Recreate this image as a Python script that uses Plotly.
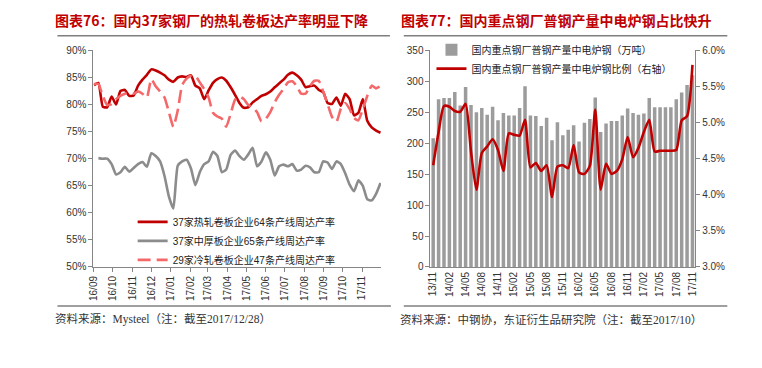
import plotly.graph_objects as go
import pandas as pd

# ---------------- Left chart data (weekly) ----------------
week_dates = pd.date_range("2016-09-01", periods=66, freq="7D")

hot_rolled = [83.6, 84.0, 79.6, 79.5, 81.5, 80.0, 82.5, 82.7, 81.6, 81.7,
              83.5, 84.6, 85.5, 86.5, 86.3, 85.9, 85.4, 84.6, 84.2, 85.0,
              85.2, 85.1, 85.4, 83.5, 83.0, 81.0, 82.6, 84.0, 84.7, 85.0,
              84.4, 83.2, 81.8, 80.3, 79.4, 79.5, 80.4, 81.0, 81.6, 81.9,
              82.4, 83.2, 83.9, 84.6, 85.5, 85.9, 85.4, 84.6, 83.2, 83.4,
              83.5, 82.7, 82.3, 80.3, 80.1, 81.3, 79.8, 82.0, 81.0, 78.0,
              78.5, 81.0, 77.0, 75.8, 75.2, 74.8]

medium_plate = [None, 70.1, 70.0, 70.0, 69.0, 67.1, 67.5, 68.5, 67.6, 68.3,
                69.0, 69.4, 68.5, 71.0, 70.5, 69.5, 66.8, 63.0, 60.8, 68.7,
                69.5, 69.8, 68.2, 65.1, 67.5, 69.0, 69.5, 71.3, 70.5, 67.5,
                68.0, 70.7, 71.5, 70.5, 69.8, 70.8, 72.0, 68.6, 69.5, 71.2,
                69.8, 66.9, 68.6, 68.9, 68.6, 69.0, 67.8, 68.0, 68.7, 68.4,
                67.5, 67.5, 69.5, 69.3, 68.1, 69.5, 69.0, 67.3, 65.2, 64.0,
                66.0, 65.0, 62.5, 62.3, 63.5, 65.5]

cold_rolled = [83.8, 83.8, 81.6, 79.9, 80.1, 81.0, 81.6, 82.0, 82.3, 82.0,
               82.4, 82.0, 81.3, 84.7, 83.4, 82.4, 81.3, 78.6, 75.9, 78.9,
               83.6, 84.8, 85.3, 85.3, 84.1, 82.9, 81.3, 78.5, 77.8, 77.4,
               75.9, 78.3, 80.9, 81.5, 81.0, 79.9, 79.5, 78.6, 76.9, 77.4,
               78.6, 80.4, 81.8, 82.9, 84.1, 84.3, 83.4, 82.0, 82.0, 83.4,
               84.4, 84.4, 82.4, 80.1, 77.7, 76.8, 79.2, 80.3, 79.2, 77.5,
               77.1, 79.2, 81.6, 83.5, 83.0, 83.4]

left_names = ["37家热轧卷板企业64条产线周达产率",
              "37家中厚板企业65条产线周达产率",
              "29家冷轧卷板企业47条产线周达产率"]

left_yticks = [50, 55, 60, 65, 70, 75, 80, 85, 90]
left_yticktext = ["50%", "55%", "60%", "65%", "70%", "75%", "80%", "85%", "90%"]

# ---------------- Right chart data (monthly) ----------------
months = ["13/11", "13/12",
          "14/01", "14/02", "14/03", "14/04", "14/05", "14/06", "14/07", "14/08", "14/09", "14/10", "14/11", "14/12",
          "15/01", "15/02", "15/03", "15/04", "15/05", "15/06", "15/07", "15/08", "15/09", "15/10", "15/11", "15/12",
          "16/01", "16/02", "16/03", "16/04", "16/05", "16/06", "16/07", "16/08", "16/09", "16/10", "16/11", "16/12",
          "17/01", "17/02", "17/03", "17/04", "17/05", "17/06", "17/07", "17/08", "17/09", "17/10", "17/11"]

eaf_output = [208, 271, 273, 273, 283, 261, 291, 262, 250, 257,
              246, 259, 237, 249, 245, 245, 257, 292, 245, 244,
              228, 241, 205, 234, 213, 222, 229, 203, 233, 239,
              274, 218, 232, 236, 236, 245, 256, 249, 246, 248,
              273, 258, 258, 258, 258, 271, 282, 294, 310]

eaf_share = [4.41, 4.87, 5.23, 5.22, 5.16, 5.15, 5.26, 4.60, 4.07, 4.58,
             4.67, 4.77, 4.62, 4.33, 4.85, 4.83, 4.82, 5.04, 4.38, 4.44,
             4.33, 4.41, 3.97, 4.39, 4.41, 4.37, 4.69, 4.31, 4.29, 4.40,
             5.18, 4.07, 4.43, 4.29, 4.33, 4.49, 4.80, 4.52, 4.65, 4.87,
             5.04, 4.60, 4.61, 4.61, 4.61, 4.62, 5.03, 5.09, 5.80]

right_names = ["国内重点钢厂普钢产量中电炉钢（万吨）",
               "国内重点钢厂普钢产量中电炉钢比例（右轴）"]

right_ticks = months[::3]

# ---------------- Figure ----------------
W, H = 762, 368
def px(x):
    return x / W
def py(y):
    return 1 - y / H

FONT = "Liberation Sans, Arial, Noto Sans CJK SC, sans-serif"
CJK = "Noto Sans CJK SC, sans-serif"
AXC = "#868686"

fig = go.Figure()

fig.add_trace(go.Scatter(x=week_dates, y=hot_rolled, name=left_names[0], mode="lines",
                         line=dict(color="#C00000", width=2.6, shape="spline", smoothing=0.5),
                         xaxis="x", yaxis="y", legend="legend"))
fig.add_trace(go.Scatter(x=week_dates, y=medium_plate, name=left_names[1], mode="lines",
                         line=dict(color="#8C8C8C", width=2.6, shape="spline", smoothing=0.5),
                         xaxis="x", yaxis="y", legend="legend"))
fig.add_trace(go.Scatter(x=week_dates, y=cold_rolled, name=left_names[2], mode="lines",
                         line=dict(color="#F4686A", width=2.6, shape="spline", smoothing=0.5,
                                   dash="13px,6px"),
                         xaxis="x", yaxis="y", legend="legend"))

fig.add_trace(go.Bar(x=months, y=eaf_output, name=right_names[0],
                     marker=dict(color="#9C9C9C", line=dict(width=0)),
                     xaxis="x2", yaxis="y2", legend="legend2"))
fig.add_trace(go.Scatter(x=months, y=eaf_share, name=right_names[1], mode="lines",
                         line=dict(color="#C00000", width=2.6, shape="spline", smoothing=0.6),
                         xaxis="x2", yaxis="y3", legend="legend2"))

ydom = [py(269.3), py(46.7)]
tickfont = dict(family=FONT, size=10, color="#333333")

fig.update_layout(
    width=W, height=H, margin=dict(l=0, r=0, t=0, b=0),
    paper_bgcolor="white", plot_bgcolor="white",
    bargap=0.35,
    xaxis=dict(domain=[px(89.3), px(380)], type="date",
               range=["2016-08-31", "2017-11-30 20:00"],
               tick0="2016-09-01", dtick="M1", tickformat="%y/%m", tickangle=-90,
               showline=True, linecolor=AXC, linewidth=1, ticks="outside", ticklen=4,
               tickcolor=AXC, showgrid=False, zeroline=False, tickfont=tickfont,
               anchor="y"),
    yaxis=dict(domain=ydom, range=[50, 90], tickmode="array", tickvals=left_yticks,
               ticktext=left_yticktext, showline=True, linecolor=AXC, linewidth=1,
               ticks="outside", ticklen=4, tickcolor=AXC, showgrid=False, zeroline=False,
               tickfont=tickfont, anchor="x"),
    xaxis2=dict(domain=[px(430), px(697.5)], type="category", range=[-0.5, 48.5],
                tickvals=right_ticks, ticktext=right_ticks, tickangle=-90,
                showline=True, linecolor=AXC, linewidth=1, ticks="", showgrid=False,
                zeroline=False, tickfont=tickfont, anchor="y2"),
    yaxis2=dict(domain=ydom, range=[0, 350], dtick=50, showline=True, linecolor=AXC,
                linewidth=1, ticks="outside", ticklen=4, tickcolor=AXC, showgrid=False,
                zeroline=False, tickfont=tickfont, anchor="x2"),
    yaxis3=dict(domain=ydom, range=[3.0, 6.0], dtick=0.5, tickformat=".1f", ticksuffix="%",
                overlaying="y2", side="right", anchor="x2", showline=True, linecolor=AXC,
                linewidth=1, ticks="outside", ticklen=4, tickcolor=AXC, showgrid=False,
                zeroline=False, tickfont=tickfont),
    legend=dict(x=px(129), y=py(208), xanchor="left", yanchor="top",
                bgcolor="rgba(0,0,0,0)", font=dict(family=FONT, size=10, color="#222222"),
                itemwidth=30, tracegroupgap=0),
    legend2=dict(x=px(431), y=py(31), xanchor="left", yanchor="top",
                 bgcolor="rgba(0,0,0,0)", font=dict(family=FONT, size=10, color="#222222"),
                 itemwidth=30, tracegroupgap=0),
    showlegend=True,
)

title_font = dict(family=CJK, size=14, color="#C00000")
src_font = dict(family="Liberation Serif, Noto Sans CJK SC, serif", size=11.5, color="#333333")
annotations = [
    dict(text="<b>图表76：国内37家钢厂的热轧卷板达产率明显下降</b>", x=px(49), y=py(15),
         xref="paper", yref="paper", xanchor="left", yanchor="middle", showarrow=False, font=title_font),
    dict(text="<b>图表77：国内重点钢厂普钢产量中电炉钢占比快升</b>", x=px(398), y=py(15),
         xref="paper", yref="paper", xanchor="left", yanchor="middle", showarrow=False, font=title_font),
    dict(text="资料来源：Mysteel（注：截至2017/12/28）", x=px(49), y=py(323),
         xref="paper", yref="paper", xanchor="left", yanchor="middle", showarrow=False, font=src_font),
    dict(text="资料来源：中钢协，东证衍生品研究院（注：截至2017/10）", x=px(397), y=py(323),
         xref="paper", yref="paper", xanchor="left", yanchor="middle", showarrow=False, font=src_font),
]
fig.update_layout(annotations=annotations)

rule = dict(color="#7F7F7F", width=1.5)
fig.update_layout(shapes=[
    dict(type="line", xref="paper", yref="paper", x0=px(53), x1=px(389), y0=py(31.7), y1=py(31.7), line=rule),
    dict(type="line", xref="paper", yref="paper", x0=px(403), x1=px(730), y0=py(31.7), y1=py(31.7), line=rule),
    dict(type="line", xref="paper", yref="paper", x0=px(53), x1=px(390), y0=py(309.5), y1=py(309.5), line=rule),
    dict(type="line", xref="paper", yref="paper", x0=px(403), x1=px(730), y0=py(309.5), y1=py(309.5), line=rule),
])

fig.write_html("out.html", config={"displayModeBar": False},
               post_script="document.body.style.margin='0px';document.body.style.padding='0px';")
